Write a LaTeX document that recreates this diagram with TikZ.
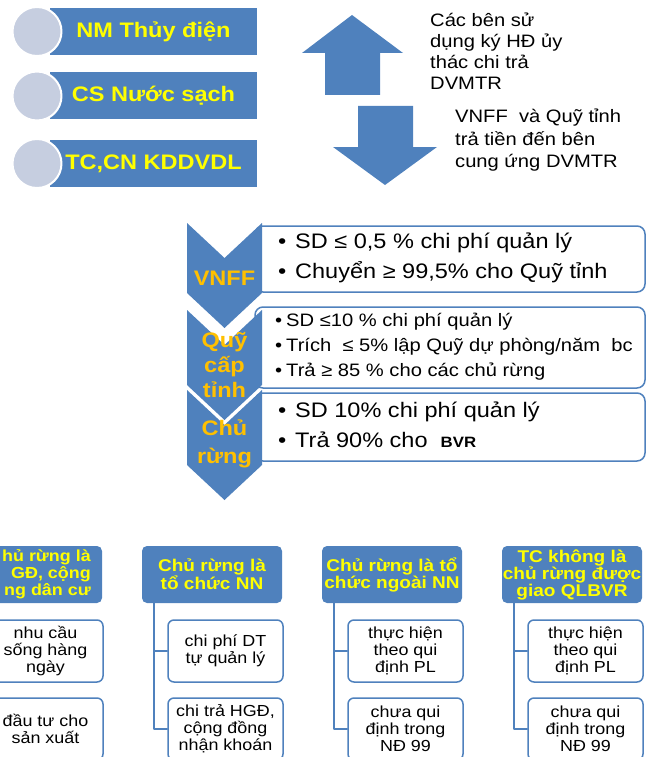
\documentclass[tikz,border=0pt]{standalone}
\usepackage{fontspec}
\setmainfont[FakeStretch=1.12]{Liberation Sans}
\usetikzlibrary{positioning}
\definecolor{dvblue}{HTML}{4F81BD}
\definecolor{dvyellow}{HTML}{FFFF00}
\definecolor{dvgold}{HTML}{FFC000}
\definecolor{dvgrey}{HTML}{C6CEE0}
\newcommand{\fs}[2]{\fontsize{#1}{#2}\selectfont}
\newcommand{\itm}[1]{\makebox[#1][l]{•}}
\begin{document}
\begin{tikzpicture}[x=1pt,y=-1pt,line join=round,line cap=round,
	srcbar/.style={fill=dvblue,text=dvyellow,font=\fs{21}{21}\bfseries,minimum width=207pt,minimum height=47pt,inner sep=0pt},
	srcdisc/.style={circle,fill=dvgrey,draw=white,line width=2pt,minimum size=49pt,inner sep=0pt},
	sidenote/.style={anchor=west,align=left,inner sep=0pt,font=\fs{18}{21}},
	infobox/.style={draw=dvblue,line width=1.5pt,fill=white,rounded corners=8pt,minimum width=390pt,inner sep=0pt},
	boxtxt/.style={anchor=west,align=left,inner sep=0pt},
	chevlabel/.style={text=dvgold,font=\fs{21}{25}\bfseries,align=center,inner sep=0pt},
	grouphead/.style={fill=dvblue,rounded corners=5pt,text=dvyellow,font=\fs{17}{17}\bfseries,align=center,minimum width=140pt,minimum height=57pt,inner sep=0pt},
	leafbox/.style={draw=dvblue,line width=1.5pt,fill=white,rounded corners=6pt,font=\fs{16}{17},align=center,minimum width=115pt,minimum height=62pt,inner sep=0pt},
	branch/.style={draw=dvblue,line width=1.8pt}]
	\useasboundingbox (0,0) rectangle (648,757);
	\clip (0,0) rectangle (648,757);
	\foreach \y/\txt/\nm in {31.5/NM Thủy điện/nm,96/CS Nước sạch/cs,163.5/{TC,CN KDDVDL}/tc}{
		\node[srcbar] (\nm) at (153.5,\y) {\txt};
		\node[srcdisc] (\nm-c) at (37,\y) {};}
	\fill[dvblue] (352,15) -- (403,53) -- (380,53) -- (380,95) -- (325,95) -- (325,53) -- (302,53) -- cycle;
	\fill[dvblue] (385,185) -- (437,147) -- (413,147) -- (413,106) -- (358,106) -- (358,147) -- (333,147) -- cycle;
	\node[sidenote] (usetxt) at (430,51.5) {Các bên sử\\dụng ký HĐ ủy\\thác chi trả\\DVMTR};
	\node[sidenote,font=\fs{18}{22.5}] (paytxt) at (455,140.5) {VNFF\ \ và Quỹ tỉnh\\trả tiền đến bên\\cung ứng DVMTR};
	\node[infobox,minimum height=66pt] (vnffbox) at (450,259) {};
	\node[infobox,minimum height=81pt] (quybox) at (450,347.5) {};
	\node[infobox,minimum height=68pt] (chubox) at (450,427) {};
	\node[boxtxt,font=\fs{21}{30}] (vnfftxt) at (278,258) {\itm{17pt}SD ≤ 0,5 \% chi phí quản lý\\\itm{17pt}Chuyển ≥ 99,5\% cho Quỹ tỉnh};
	\node[boxtxt,font=\fs{18}{25}] (quytxt) at (275,347) {\itm{11pt}SD ≤10 \% chi phí\ quản lý\\\itm{11pt}Trích\ \ ≤ 5\% lập Quỹ dự phòng/năm\ \ bc\\\itm{11pt}Trả ≥ 85 \% cho các chủ rừng};
	\node[boxtxt,font=\fs{21}{30}] (chutxt) at (278,425) {\itm{17pt}SD 10\% chi phí quản lý\\\itm{17pt}Trả 90\% cho\ \ {\fs{15}{30}\bfseries BVR}};
	\foreach \t/\b in {223/293,310/385,390/465}
		\fill[dvblue] (187,\t) -- (224.5,\t+35) -- (262,\t) -- (262,\b) -- (224.5,\b+35) -- (187,\b) -- cycle;
	\node[chevlabel] (vnff) at (224.5,278) {VNFF};
	\node[chevlabel] (quy) at (224.5,365) {Quỹ\\cấp\\tỉnh};
	\node[chevlabel,font=\fs{21}{28}\bfseries] (churung) at (224.5,444) {Chủ\\rừng};
	\foreach \i/\cx/\htxt/\atxt/\btxt in {
		1/32/{}/{nhu cầu\\sống hàng\\ngày}/{đầu tư cho\\sản xuất},
		2/212/{Chủ rừng là\\tổ chức NN}/{chi phí DT\\tự quản lý}/{chi trả HGĐ,\\cộng đồng\\nhận khoán},
		3/392/{Chủ rừng là tổ\\chức ngoài NN}/{thực hiện\\theo qui\\định PL}/{chưa qui\\định trong\\NĐ 99},
		4/572/{TC không là\\chủ rừng được\\giao QLBVR}/{thực hiện\\theo qui\\định PL}/{chưa qui\\định trong\\NĐ 99}}{
		\node[grouphead] (g\i) at (\cx,574.5) {\htxt};
		\node[leafbox] (a\i) at (\cx+13.5,651) {\atxt};
		\node[leafbox] (b\i) at (\cx+13.5,729) {\btxt};
		\draw[branch] ([xshift=12pt]g\i.south west) |- (a\i.west);
		\draw[branch] ([xshift=12pt]g\i.south west) |- (b\i.west);}
	\node[text=dvyellow,font=\fs{16}{17}\bfseries,align=right,inner sep=0pt,anchor=east] (g1txt) at (91,574.5) {hủ rừng là\hspace{3pt}\\GĐ, cộng\hspace{8pt}\\ng dân cư};
\end{tikzpicture}
\end{document}
